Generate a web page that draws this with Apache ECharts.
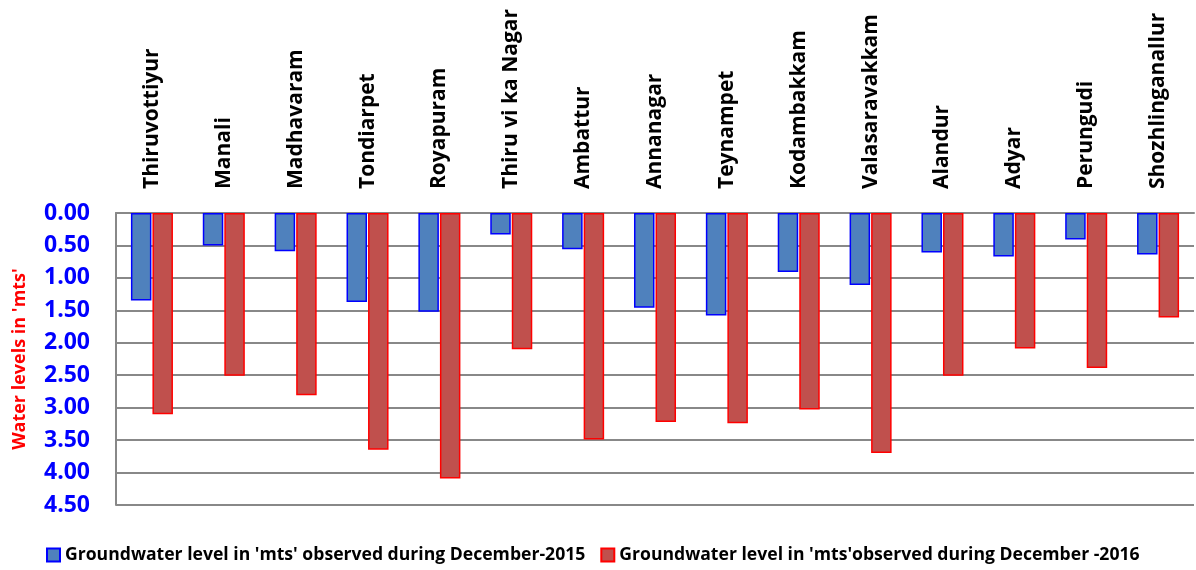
<!DOCTYPE html>
<html><head><meta charset="utf-8">
<script src="https://cdn.jsdelivr.net/npm/echarts@6/dist/echarts.min.js"></script>
<style>html,body{margin:0;padding:0;background:#fff}#c{width:1196px;height:570px}</style>
</head><body><div id="c"></div>
<script>
const categories = ["Thiruvottiyur","Manali","Madhavaram","Tondiarpet","Royapuram","Thiru vi ka Nagar","Ambattur","Annanagar","Teynampet","Kodambakkam","Valasaravakkam","Alandur","Adyar","Perungudi","Shozhlinganallur"];
const dec2015 = [1.35,0.50,0.59,1.37,1.52,0.33,0.56,1.46,1.58,0.91,1.11,0.61,0.67,0.41,0.64];
const dec2016 = [3.10,2.51,2.81,3.65,4.09,2.10,3.49,3.22,3.24,3.03,3.70,2.51,2.09,2.39,1.61];
const yTicks = [0,0.5,1,1.5,2,2.5,3,3.5,4,4.5];
const seriesNames = ["Groundwater level in 'mts' observed during December-2015","Groundwater level in 'mts'observed during December -2016"];

const chart = echarts.init(document.getElementById('c'));
const font = "'Open Sans', 'Liberation Sans', sans-serif";
chart.setOption({
  animation:false,
  textStyle:{fontFamily:font},
  grid:{left:116,right:2,top:213,bottom:65,containLabel:false,outerBoundsMode:'none'},
  legend:{
    top:546,left:46,itemWidth:13,itemHeight:13,itemGap:15,
    icon:'rect',padding:0,
    textStyle:{fontFamily:font,fontWeight:'bold',fontSize:17.6,color:'#000'},
    data:seriesNames
  },
  xAxis:{
    type:'category',position:'top',data:categories,
    axisLine:{lineStyle:{color:'#888',width:2}},
    axisTick:{show:false},
    axisLabel:{rotate:90,margin:24,interval:0,fontFamily:font,fontWeight:'bold',fontSize:21,color:'#000'}
  },
  yAxis:{
    type:'value',inverse:true,min:0,max:4.5,interval:0.5,
    name:"Water levels in 'mts'",nameLocation:'middle',nameGap:87,
    nameTextStyle:{color:'#ff0000',fontWeight:'bold',fontSize:18,fontFamily:font},
    axisLine:{show:true,lineStyle:{color:'#888',width:2}},
    axisTick:{show:false},
    axisLabel:{color:'#0000ff',fontWeight:'bold',fontSize:23,fontFamily:font,margin:26,
      formatter:v=>yTicks.includes(v)?v.toFixed(2):''},
    splitLine:{lineStyle:{color:'#888',width:2}}
  },
  series:[
    {name:seriesNames[0],type:'bar',data:dec2015,barWidth:20.5,barGap:'5%',
     itemStyle:{color:'#4F81BD',borderColor:'#0000ff',borderWidth:1.5}},
    {name:seriesNames[1],type:'bar',data:dec2016,barWidth:20.5,
     itemStyle:{color:'#C0504D',borderColor:'#ff0000',borderWidth:1.5}}
  ]
});
</script></body></html>
